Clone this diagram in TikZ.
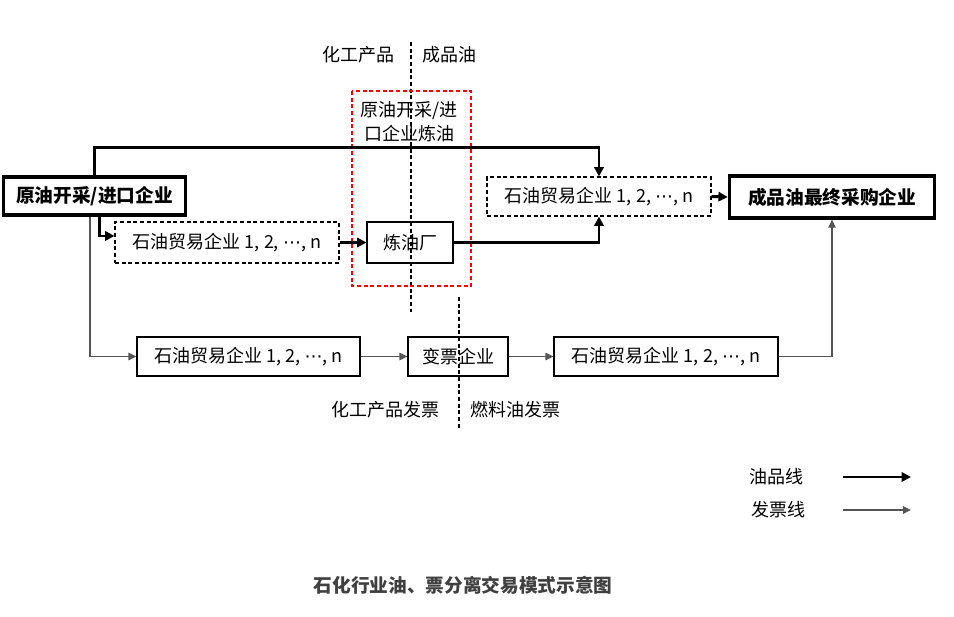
\documentclass[tikz,border=0pt]{standalone}
\usepackage{fontspec}
\setmainfont{Noto Sans CJK SC}
\newfontfamily\symfont{DejaVu Sans}
\newcommand{\mydots}{{\symfont ⋯}}
\usetikzlibrary{arrows.meta}
\definecolor{thingray}{RGB}{85,85,85}
\definecolor{titlegray}{RGB}{64,64,64}
\tikzset{
  every node/.style={font=\fontsize{13.5}{15}\selectfont, inner sep=0pt},
  plainbox/.style={draw, line width=0.8pt, align=center},
  dashbox/.style={draw, line width=0.8pt, dash pattern=on 3pt off 2pt},
  boldbox/.style={draw, line width=2.4pt, font=\fontsize{14}{16}\selectfont\bfseries},
  oil/.style={line width=2.2pt, -{Triangle[length=7pt,width=7pt]}},
  invoice/.style={line width=1.1pt, thingray, -{Triangle[length=6pt,width=5.5pt]}},
  sepline/.style={line width=0.8pt, dash pattern=on 3pt off 2pt},
}
\begin{document}
\begin{tikzpicture}[x=0.75pt,y=-0.75pt]
\useasboundingbox (0,0) rectangle (954,617);
% separator lines
\draw[sepline] (411,42) -- (411,312);
\draw[sepline] (459,297) -- (459,430);
% red dashed region
\draw[red, line width=0.9pt, dash pattern=on 3pt off 2pt] (352,91) rectangle (471,286);
% top labels
\node (lchem) at (358,55) {化工产品};
\node (lprod) at (449,55) {成品油};
\node[align=center, font=\fontsize{13.5}{18}\selectfont] (lred) at (409,122) {原油开采/进\\口企业炼油};
% boxes
\node[boldbox, minimum width=137pt, minimum height=28.5pt] (main) at (94.5,196) {原油开采/进口企业};
\node[dashbox, minimum width=168pt, minimum height=29.25pt] (dTR) at (599,196.5) {石油贸易企业 1, 2, \mydots, n};
\node[boldbox, minimum width=154pt, minimum height=31.5pt] (final) at (832,197) {成品油最终采购企业};
\node[dashbox, minimum width=168pt, minimum height=30.75pt] (dL) at (227,242.5) {石油贸易企业 1, 2, \mydots, n};
\node[plainbox, minimum width=64.5pt, minimum height=30.75pt] (ref) at (410,242.5) {炼油厂};
\node[plainbox, minimum width=167.25pt, minimum height=29.25pt] (b1) at (248.5,356.5) {石油贸易企业 1, 2, \mydots, n};
\node[plainbox, minimum width=75pt, minimum height=29.25pt] (b2) at (458,356.5) {变票企业};
\node[plainbox, minimum width=168pt, minimum height=29.25pt] (b3) at (666,356.5) {石油贸易企业 1, 2, \mydots, n};
% oil connectors
\draw[oil] (main.north) -- ++(0,-28) -| (dTR.north);
\draw[oil] ([xshift=3.4pt]main.south) |- ([yshift=4.9pt]dL.west);
\draw[oil] (dL.east) -- (ref.west);
\draw[oil] (ref.east) -| (dTR.south);
\draw[oil] (dTR.east) -- (final.west);
% invoice connectors
\draw[invoice] ([xshift=-3.4pt]main.south) |- (b1.west);
\draw[invoice] (b1.east) -- (b2.west);
\draw[invoice] (b2.east) -- (b3.west);
\draw[invoice] (b3.east) -| (final.south);
% invoice labels
\node (linv1) at (385,410) {化工产品发票};
\node (linv2) at (515,410) {燃料油发票};
% legend
\node (leg1) at (776,477) {油品线};
\node (leg2) at (778,510) {发票线};
\coordinate (l1a) at (843,477);
\coordinate (l1b) at (911,477);
\coordinate (l2a) at (843,510);
\coordinate (l2b) at (911,510);
\draw[oil] (l1a) -- (l1b);
\draw[invoice] (l2a) -- (l2b);
% title
\node[font=\fontsize{14}{16}\selectfont\bfseries, text=titlegray] (title) at (463,585) {石化行业油、票分离交易模式示意图};
\end{tikzpicture}
\end{document}
